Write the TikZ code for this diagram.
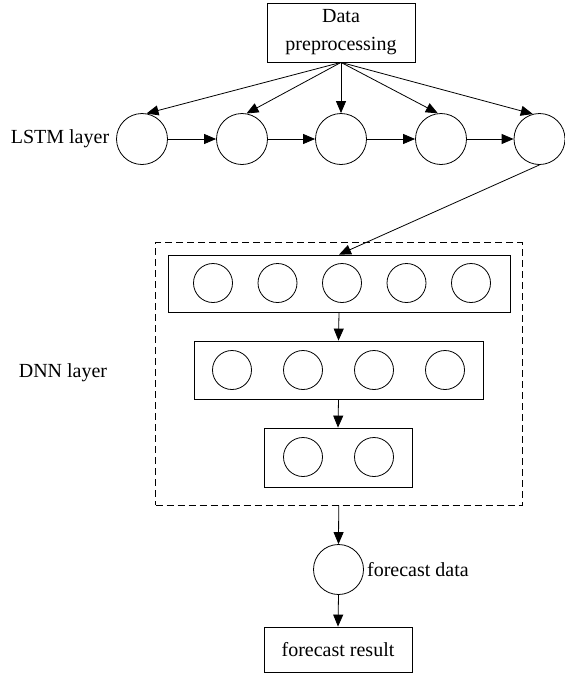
\documentclass[tikz,border=0pt]{standalone}
\usepackage{fontspec}
\setmainfont{Liberation Serif}
\usetikzlibrary{arrows.meta}
\begin{document}
\begin{tikzpicture}[x=1pt,y=-1pt,
  every node/.style={font=\fontsize{20}{28}\selectfont},
  line/.style={line width=0.8pt},
  arr/.style={line, -{Triangle[length=12pt,width=10pt]}},
  unit/.style={circle, draw, line width=0.8pt, inner sep=0pt, minimum size=51pt},
  neuron/.style={circle, draw, line width=0.8pt, inner sep=0pt, minimum size=39pt},
  layerbox/.style={rectangle, draw, line width=0.8pt, inner sep=0pt},
  label/.style={inner sep=0pt}]
\useasboundingbox (0,0) rectangle (565,673);

% input block
\node[layerbox, align=center, minimum width=148pt, minimum height=59pt] (dp) at (341,32.5) {Data\\preprocessing};

% LSTM chain
\node[unit] (l1) at (142,139) {};
\node[unit] (l2) at (242,139) {};
\node[unit] (l3) at (341,139) {};
\node[unit] (l4) at (441,139) {};
\node[unit] (l5) at (539.5,139) {};
\node[label] (lstm) at (60,139) {LSTM layer};

\draw[arr] (dp.south) -- (l1.80);
\draw[arr] (dp.south) -- (l2.80);
\draw[arr] (dp.south) -- (l3.north);
\draw[arr] (dp.south) -- (l4.97);
\draw[arr] (dp.south) -- (l5.105);
\draw[arr] (l1) -- (l2);
\draw[arr] (l2) -- (l3);
\draw[arr] (l3) -- (l4);
\draw[arr] (l4) -- (l5);

% DNN block
\node[rectangle, draw, line width=0.8pt, dash pattern=on 7pt off 4pt, inner sep=0pt,
      minimum width=366.5pt, minimum height=262.5pt] (dnn) at (338.75,373.75) {};
\node[label] (dnnlabel) at (63,373) {DNN layer};

\node[layerbox, minimum width=342pt, minimum height=57pt] (b1) at (339,283.5) {};
\node[layerbox, minimum width=289pt, minimum height=58pt] (b2) at (338.5,370) {};
\node[layerbox, minimum width=148pt, minimum height=59pt] (b3) at (338,457.5) {};

\foreach \i/\x in {1/213,2/277.5,3/342,4/406.5,5/471}
  \node[neuron] (n1\i) at (\x,283) {};
\foreach \i/\x in {1/232,2/303,3/374,4/445}
  \node[neuron] (n2\i) at (\x,370) {};
\foreach \i/\x in {1/303,2/374}
  \node[neuron] (n3\i) at (\x,457) {};

\draw[arr] (l5.south) -- (b1.north);
\draw[arr] (b1.south) -- (b2.north);
\draw[arr] (b2.south) -- (b3.north);

% output
\node[unit, minimum size=50pt] (fc) at (338.5,569.5) {};
\node[label, anchor=west, xshift=3pt] (fclabel) at (fc.east) {forecast data};
\node[layerbox, minimum width=148pt, minimum height=45pt] (res) at (338,649.5) {forecast result};

\draw[arr] (dnn.south) -- (fc.north);
\draw[arr] (fc.south) -- (res.north);
\end{tikzpicture}
\end{document}
